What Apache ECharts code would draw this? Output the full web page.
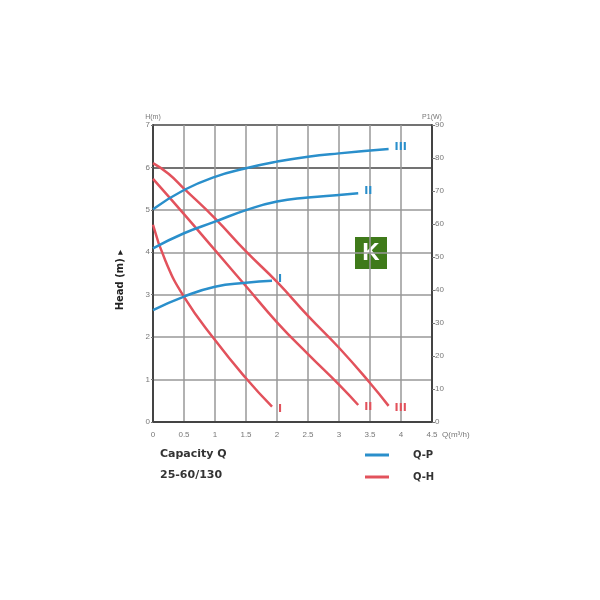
<!DOCTYPE html>
<html><head><meta charset="utf-8">
<script src="https://cdn.jsdelivr.net/npm/echarts@6/dist/echarts.min.js"></script>
<style>html,body{margin:0;padding:0;background:#fff}#c{width:600px;height:600px}</style>
</head><body><div id="c"></div>
<script>
// Q-H curves (head in m vs capacity in m³/h)
var qhI   = [[0,4.65],[0.2,3.8],[0.5,2.95],[1,1.93],[1.5,1.03],[1.92,0.36]];
var qhII  = [[0,5.73],[0.5,4.9],[1,4.05],[1.5,3.2],[2,2.35],[2.5,1.6],[3,0.88],[3.31,0.4]];
var qhIII = [[0,6.1],[0.25,5.85],[0.5,5.5],[1,4.8],[1.5,4.02],[2,3.3],[2.5,2.5],[3,1.75],[3.5,0.92],[3.8,0.38]];
// Q-P curves (power in W vs capacity)
var qpI   = [[0,33.9],[0.5,38],[1,41],[1.5,42.2],[1.92,42.8]];
var qpII  = [[0,52.6],[0.5,57.2],[1,60.7],[1.5,64.2],[2,66.8],[2.5,68.0],[3,68.8],[3.31,69.3]];
var qpIII = [[0,64.5],[0.5,70.3],[1,74.3],[1.5,76.9],[2,78.9],[2.5,80.4],[3,81.4],[3.8,82.7]];
var speedLabels = ['I','II','III'];
var legendNames = ['Q-P','Q-H'];
var titleLines = ['Capacity Q','25-60/130'];

var BLUE = '#2a8fcb', RED = '#e2525c';
var gridColors = ['#999','#999','#999','#999','#999','#999','#444','#444'];

function mk(name, data, color, yIdx, lab){
  return {
    name: name, type: 'line', data: data, yAxisIndex: yIdx, smooth: true,
    symbol: 'none', lineStyle: {color: color, width: 2.5}, itemStyle:{color: color},
    endLabel: {show: true, formatter: lab, color: color, fontWeight: 'bold',
      fontSize: 11, fontFamily: 'DejaVu Sans', distance: 6,
      offset: yIdx === 0 ? [0, 2] : [0, -2]}
  };
}

var chart = echarts.init(document.getElementById('c'));
chart.setOption({
  animation: false,
  grid: {left: 153, right: 168, top: 125, bottom: 178},
  xAxis: {
    type: 'value', min: 0, max: 4.5, interval: 0.5,
    name: 'Q(m³/h)', nameLocation: 'end', nameGap: 10,
    nameTextStyle: {color: '#777', fontSize: 8, verticalAlign: 'top', padding: [9,0,0,0]},
    axisLine: {lineStyle: {color: '#444', width: 2}},
    axisTick: {show: false},
    axisLabel: {color: '#777', fontSize: 8, margin: 9},
    splitLine: {show: true, lineStyle: {color: '#999', width: 1.5}}
  },
  yAxis: [{
    type: 'value', min: 0, max: 7, interval: 1, position: 'left',
    name: 'H(m)', nameGap: 4, nameTextStyle: {color: '#777', fontSize: 7, align: 'center'},
    axisLine: {show: true, lineStyle: {color: '#444', width: 2}},
    axisTick: {show: true, length: 2, lineStyle: {color: '#777'}},
    axisLabel: {color: '#777', fontSize: 8, margin: 3},
    splitLine: {show: true, lineStyle: {color: gridColors, width: 1.5}}
  },{
    type: 'value', min: 0, max: 90, interval: 10, position: 'right',
    name: 'P1(W)', nameGap: 4, nameTextStyle: {color: '#777', fontSize: 7, align: 'center'},
    axisLine: {show: true, lineStyle: {color: '#444', width: 2}},
    axisTick: {show: true, length: 3, lineStyle: {color: '#777'}},
    axisLabel: {color: '#777', fontSize: 8, margin: 3},
    splitLine: {show: false}
  }],
  legend: {
    data: legendNames.map(function(n){return {name:n, icon:'rect'};}),
    orient: 'vertical', left: 365, top: 450, padding: 0,
    itemWidth: 24, itemHeight: 3, itemGap: 12,
    textStyle: {color: '#333', fontWeight: 'bold', fontSize: 10, fontFamily: 'DejaVu Sans', padding: [0,0,0,19]},
    selectedMode: false
  },
  series: [
    mk(legendNames[1], qhI, RED, 0, speedLabels[0]),
    mk(legendNames[1], qhII, RED, 0, speedLabels[1]),
    mk(legendNames[1], qhIII, RED, 0, speedLabels[2]),
    mk(legendNames[0], qpI, BLUE, 1, speedLabels[0]),
    mk(legendNames[0], qpII, BLUE, 1, speedLabels[1]),
    mk(legendNames[0], qpIII, BLUE, 1, speedLabels[2])
  ],
  graphic: [
    {type:'text', left: 160, top: 449, style:{text: titleLines[0], fill:'#333', font:'bold 11px DejaVu Sans'}},
    {type:'text', left: 160, top: 470, style:{text: titleLines[1], fill:'#333', font:'bold 11px DejaVu Sans'}},
    {type:'text', x: 120, y: 280, rotation: Math.PI/2,
      style:{text:'Head (m) ▸', fill:'#222', font:'bold 10px DejaVu Sans', align:'center', verticalAlign:'middle'}},
    {type:'rect', shape:{x:355, y:237, width:32, height:32}, style:{fill:'#3f7a1a'}},
    {type:'text', x: 371, y: 253, style:{text:'K', fill:'#fff', font:'bold 24px Liberation Sans', align:'center', verticalAlign:'middle'}}
  ]
});
</script></body></html>
